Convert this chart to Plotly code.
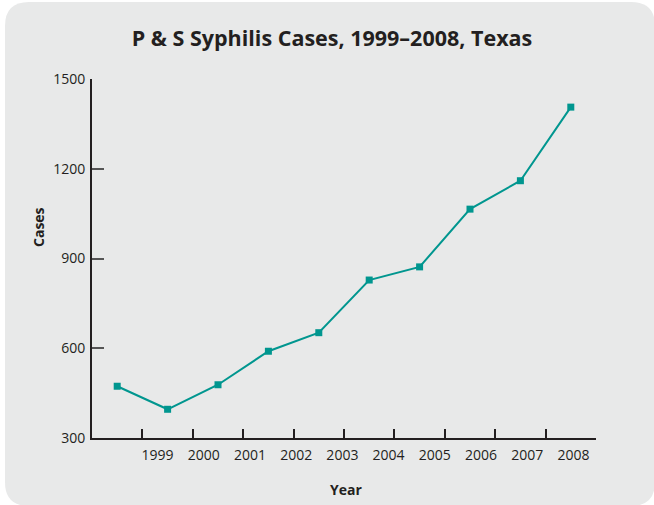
import plotly.graph_objects as go

# Data
years = ["1999", "2000", "2001", "2002", "2003", "2004", "2005", "2006", "2007", "2008"]
cases = [473, 396, 478, 590, 652, 828, 872, 1065, 1160, 1406]
y_ticks = [300, 600, 900, 1200, 1500]

W, H = 654, 505
L, R, T, B = 92, 58, 79, 67
PW, PH = W - L - R, H - T - B

def px(x, y):
    return (x - L) / PW, (H - B - y) / PH

# point positions on the numeric x axis (midway between tick marks)
xpos = [i + 0.5 for i in range(len(years))]
tick_pos = [i + 1 for i in range(len(years))]
label_pos = [1.30 + 0.917 * i for i in range(len(years))]

teal = "#00968f"
dark = "#231f20"
font = "Open Sans"

fig = go.Figure()
fig.add_trace(go.Scatter(
    x=xpos, y=cases, mode="lines+markers",
    line=dict(color=teal, width=2),
    marker=dict(symbol="square", size=7, color=teal),
    hoverinfo="skip", showlegend=False,
))
fig.add_trace(go.Scatter(
    x=[label_pos[0]], y=[cases[0]], xaxis="x2", mode="markers",
    marker=dict(opacity=0), hoverinfo="skip", showlegend=False,
))

# rounded gray background panel
x0, y0, x1, y1, r = 5, 2, 655, 506, 24
def P(x, y):
    a, b = px(x, y)
    return f"{a:.5f},{b:.5f}"
path = (f"M {P(x0 + r, y0)} L {P(x1 - r, y0)} Q {P(x1, y0)} {P(x1, y0 + r)} "
        f"L {P(x1, y1 - r)} Q {P(x1, y1)} {P(x1 - r, y1)} "
        f"L {P(x0 + r, y1)} Q {P(x0, y1)} {P(x0, y1 - r)} "
        f"L {P(x0, y0 + r)} Q {P(x0, y0)} {P(x0 + r, y0)} Z")
fig.add_shape(type="path", path=path, xref="paper", yref="paper",
              fillcolor="#e8e9e9", line=dict(width=0), layer="below")

cx, cy = px(38, 227)
yx, yy = px(346, 489)
fig.add_annotation(text="<b>Cases</b>", x=cx, y=cy, xref="paper", yref="paper",
                   xanchor="center", yanchor="middle",
                   textangle=-90, showarrow=False,
                   font=dict(family=font, size=14, color=dark))
fig.add_annotation(text="<b>Year</b>", x=yx, y=yy, xref="paper", yref="paper",
                   xanchor="center", yanchor="middle",
                   showarrow=False, font=dict(family=font, size=14, color=dark))

fig.update_layout(
    width=W, height=H,
    margin=dict(l=L, r=R, t=T, b=B),
    paper_bgcolor="white", plot_bgcolor="rgba(0,0,0,0)",
    title=dict(text="<b>P & S Syphilis Cases, 1999–2008, Texas</b>",
               xref="container", yref="container",
               x=332 / W, y=1 - 38 / H, xanchor="center", yanchor="middle",
               font=dict(family=font, size=21.5, color=dark)),
    xaxis=dict(range=[0, 10], tickvals=tick_pos, showticklabels=False,
               ticks="inside", ticklen=9, tickwidth=2, tickcolor=dark,
               showline=True, linecolor=dark, linewidth=2,
               showgrid=False, zeroline=False, fixedrange=True),
    xaxis2=dict(range=[0, 10], overlaying="x", anchor="y", side="bottom",
                tickvals=label_pos, ticktext=years, ticks="",
                showline=False, showgrid=False, zeroline=False,
                ticklabelstandoff=7,
                tickfont=dict(family=font, size=14, color=dark)),
    yaxis=dict(range=[300, 1500], tickvals=y_ticks,
               ticks="inside", ticklen=12, tickwidth=1.5, tickcolor="#555",
               showline=True, linecolor=dark, linewidth=2,
               showgrid=False, zeroline=False, ticklabelstandoff=2,
               tickfont=dict(family=font, size=14, color=dark)),
)

fig.write_html("out.html", config={"displayModeBar": False},
               post_script="document.body.style.margin='0';")
